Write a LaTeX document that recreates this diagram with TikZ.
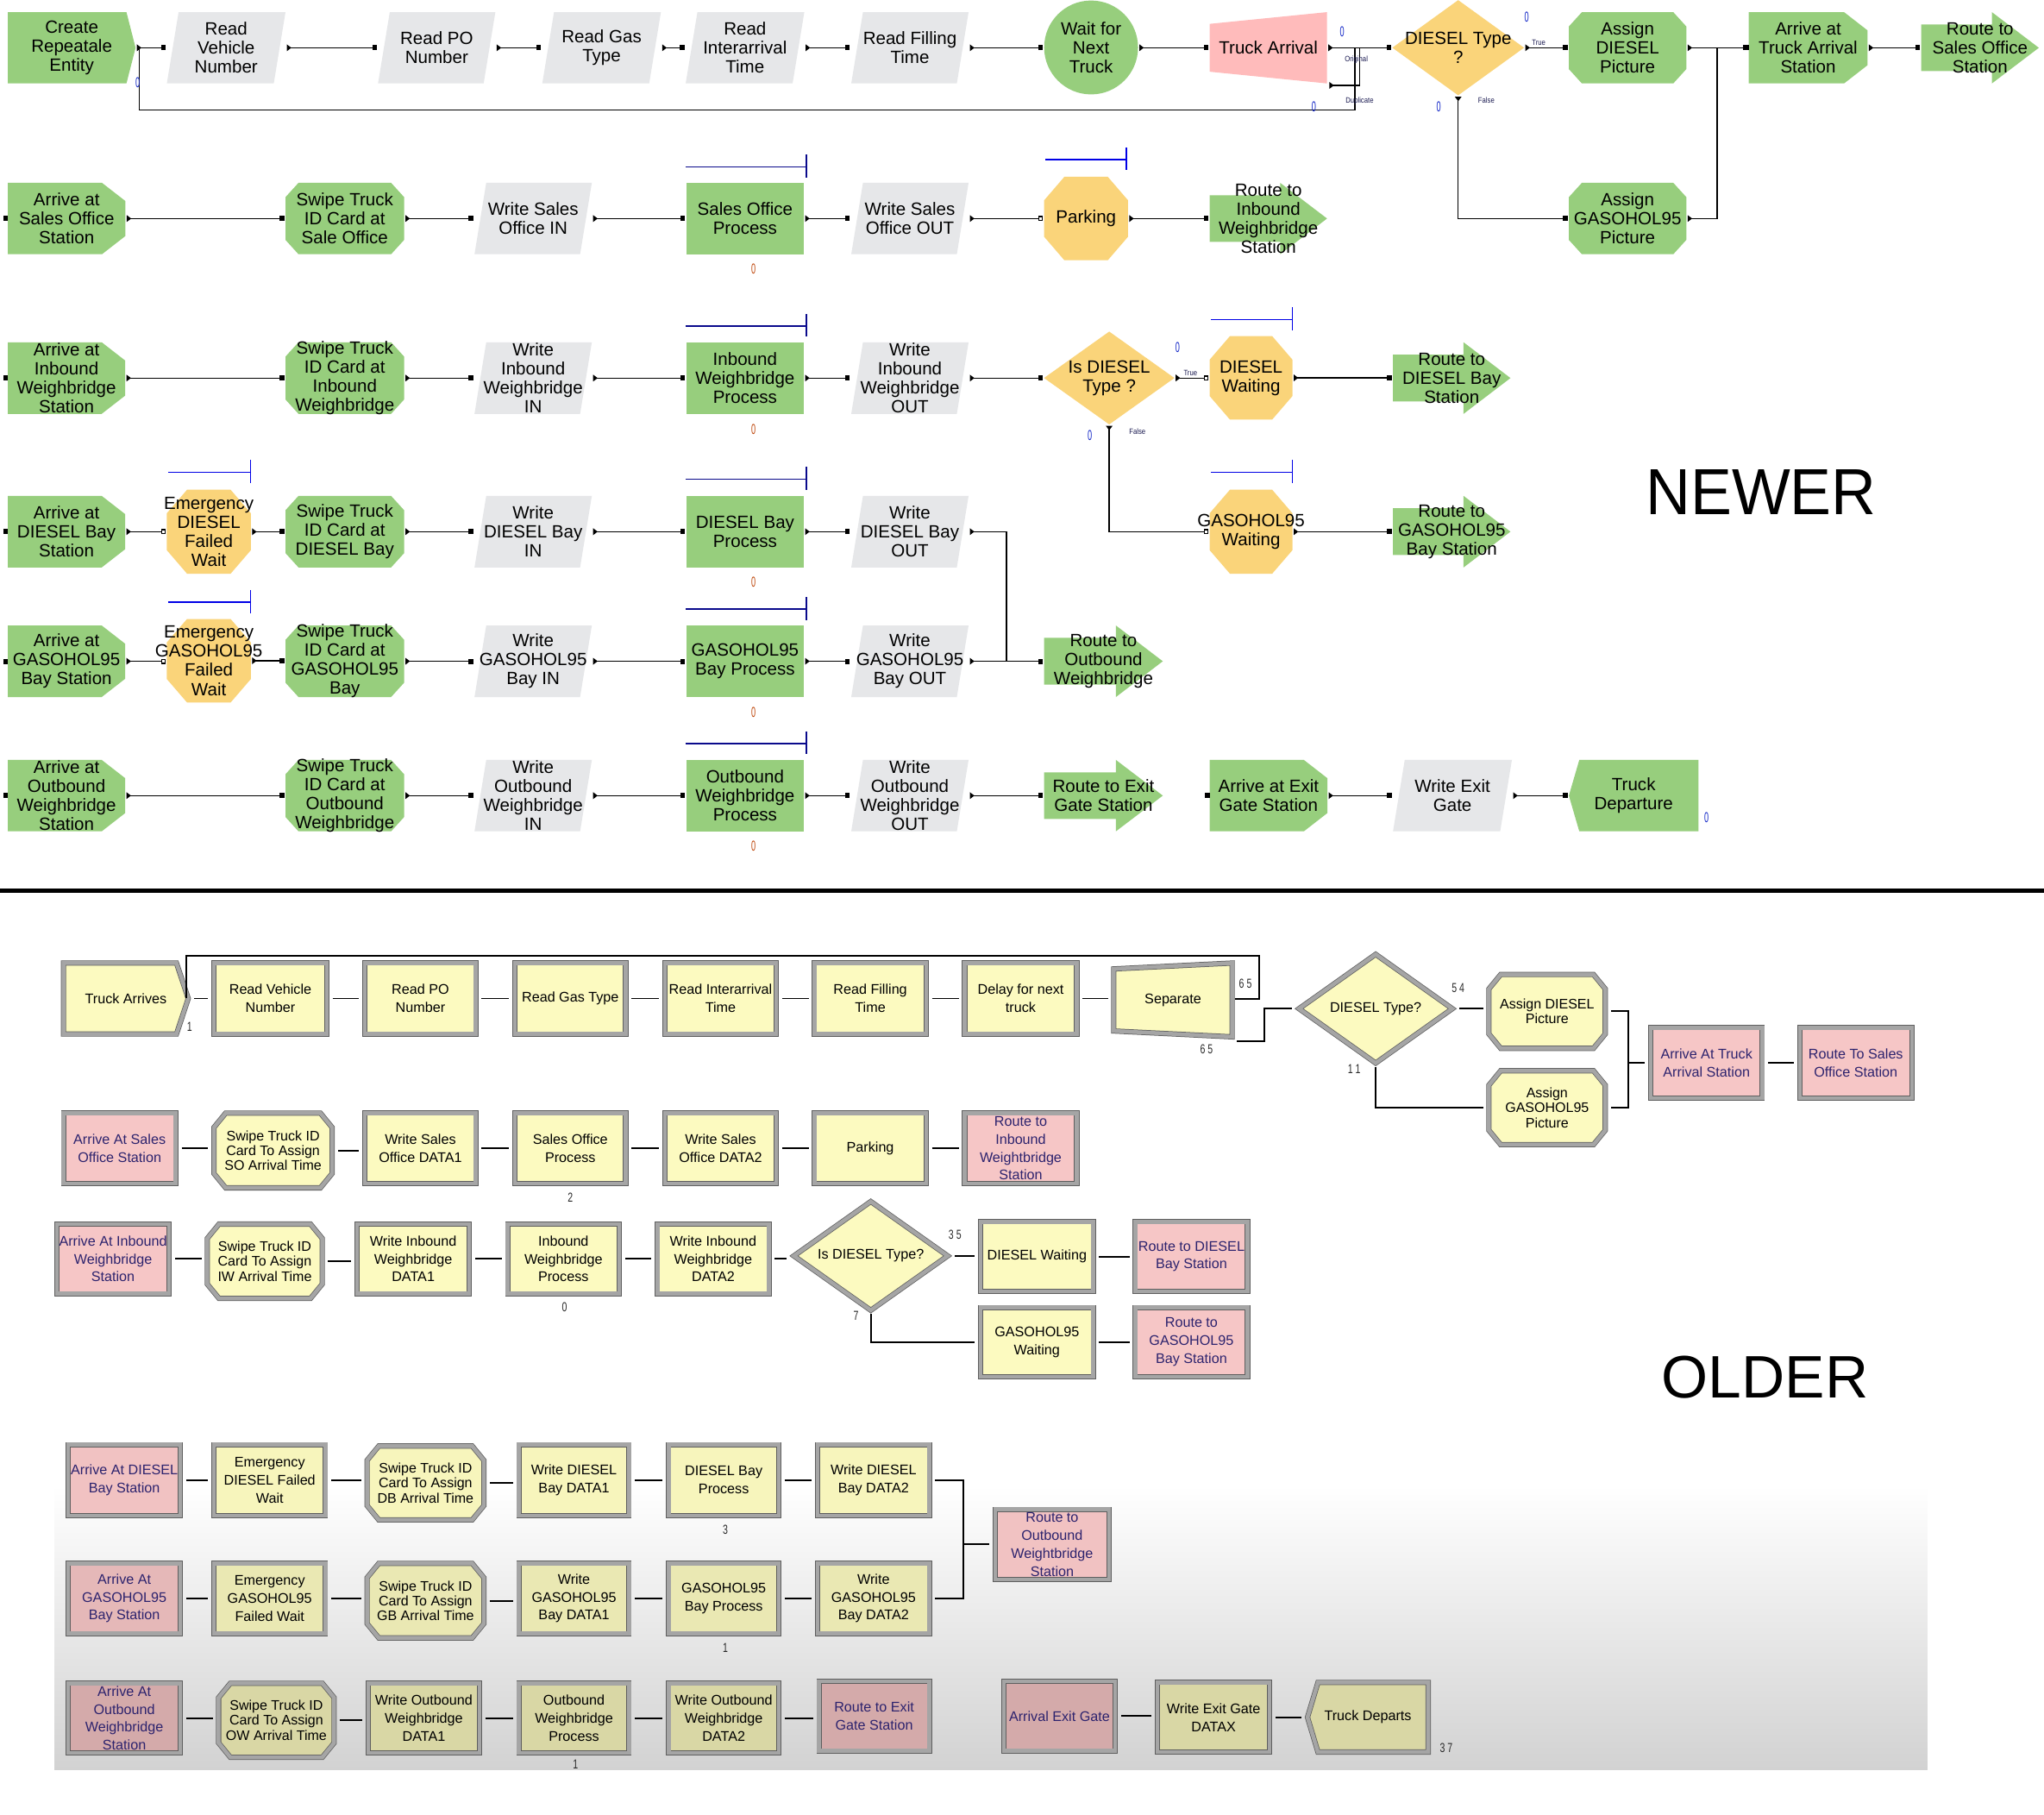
\documentclass[tikz,border=0pt]{standalone}
\usepackage{fontspec}
\setmainfont{Liberation Sans}
\usetikzlibrary{arrows.meta}
\definecolor{ngreen}{RGB}{151,206,125}
\definecolor{ngray}{RGB}{230,231,233}
\definecolor{npink}{RGB}{255,187,187}
\definecolor{norange}{RGB}{250,212,122}
\definecolor{oyel}{RGB}{252,250,192}
\definecolor{opink}{RGB}{246,198,198}
\colorlet{oyel4}{oyel!98!black}
\colorlet{opink4}{opink!98!black}
\colorlet{oyel5}{oyel!93!black}
\colorlet{opink5}{opink!93!black}
\colorlet{oyel6}{oyel!86!black}
\colorlet{opink6}{opink!86!black}
\definecolor{obev}{RGB}{165,165,165}
\definecolor{oedge}{RGB}{95,95,95}
\definecolor{otext}{RGB}{45,35,110}
\definecolor{qnavy}{RGB}{10,10,140}
\definecolor{qblue}{RGB}{0,0,230}
\definecolor{zblue}{RGB}{20,40,200}
\definecolor{zred}{RGB}{190,70,10}
\definecolor{bgbot}{RGB}{210,210,210}
\definecolor{lblc}{RGB}{25,25,80}
\definecolor{onumc}{RGB}{40,40,40}
\newcommand\fntN{\fontsize{13.6}{14.6}\selectfont}
\newcommand\fntO{\fontsize{10.7}{13.8}\selectfont}
\newcommand\fntOs{\fontsize{10.6}{11.4}\selectfont}
% ---------- newer modules ----------
\newcommand\NNode[6]{\node[ntxt] (#1) at ({(#2+#4)/2},{(#3+#5)/2}) {#6};
  \coordinate (#1-in) at ({#2-1},{(#3+#5)/2});
  \coordinate (#1-out) at ({#4+1},{(#3+#5)/2});}
\newcommand\NRect[6]{\fill[ngreen] (#2,#3) rectangle (#4,#5); \NNode{#1}{#2}{#3}{#4}{#5}{#6}}
\newcommand\NPar[6]{\fill[ngray] (#2,#5) -- ({#2+9},#3) -- (#4,#3) -- ({#4-9},#5) -- cycle; \NNode{#1}{#2}{#3}{#4}{#5}{#6}}
\newcommand\NCreate[6]{\fill[ngreen] (#2,#3) -- ({#4-7},#3) -- (#4,{(#3+#5)/2}) -- ({#4-7},#5) -- (#2,#5) -- cycle; \NNode{#1}{#2}{#3}{#4}{#5}{#6}}
\newcommand\NStation[6]{\fill[ngreen] (#2,#3) -- ({#4-18},#3) -- (#4,{#3+14}) -- (#4,{#5-14}) -- ({#4-18},#5) -- (#2,#5) -- cycle;
  \fill ({#2-3.5},{(#3+#5)/2-2}) rectangle (#2,{(#3+#5)/2+2}); \NNode{#1}{#2}{#3}{#4}{#5}{#6}}
\newcommand\NOct[6]{\fill[ngreen] ({#2+10},#3) -- ({#4-10},#3) -- (#4,{#3+11}) -- (#4,{#5-11}) -- ({#4-10},#5) -- ({#2+10},#5) -- (#2,{#5-11}) -- (#2,{#3+11}) -- cycle; \NNode{#1}{#2}{#3}{#4}{#5}{#6}}
\newcommand\NHold[6]{\fill[norange] ({#2+15.5},#3) -- ({#4-15.5},#3) -- (#4,{#3+18}) -- (#4,{#5-18}) -- ({#4-15.5},#5) -- ({#2+15.5},#5) -- (#2,{#5-18}) -- (#2,{#3+18}) -- cycle; \NNode{#1}{#2}{#3}{#4}{#5}{#6}}
\newcommand\NRoute[6]{\fill[ngreen] (#2,{#3+9.5}) -- ({#4-36},{#3+9.5}) -- ({#4-36},#3) -- (#4,{(#3+#5)/2}) -- ({#4-36},#5) -- ({#4-36},{#5-9.5}) -- (#2,{#5-9.5}) -- cycle; \NNode{#1}{#2}{#3}{#4}{#5}{#6}}
\newcommand\NDispose[6]{\fill[ngreen] ({#2+8},#3) -- (#4,#3) -- (#4,#5) -- ({#2+8},#5) -- (#2,{(#3+#5)/2}) -- cycle; \NNode{#1}{#2}{#3}{#4}{#5}{#6}}
\newcommand\NTrap[6]{\fill[npink] (#2,{#3+9}) -- (#4,#3) -- (#4,#5) -- (#2,{#5-9}) -- cycle; \NNode{#1}{#2}{#3}{#4}{#5}{#6}}
\newcommand\NDiamond[6]{\fill[norange] ({#2-#4},#3) -- (#2,{#3-#5}) -- ({#2+#4},#3) -- (#2,{#3+#5}) -- cycle;
  \node[ntxt] (#1) at (#2,#3) {#6};
  \coordinate (#1-in) at ({#2-#4-1},#3); \coordinate (#1-out) at ({#2+#4+1},#3); \coordinate (#1-bot) at (#2,{#3+#5+1});}
% ---------- older modules ----------
\newcommand\ONode[8]{\node[inner sep=0pt, align=center, font=#8, text=#6] (#1) at ({(#2+#4)/2},{(#3+#5)/2}) {#7};
  \coordinate (#1-in) at (#2,{(#3+#5)/2}); \coordinate (#1-out) at (#4,{(#3+#5)/2});}
\newcommand\ORect[8]{\path[obord,fill=#6] ({#2+2},{#3+2}) rectangle ({#4-2},{#5-2}); \ONode{#1}{#2}{#3}{#4}{#5}{#7}{#8}{\fntO}}
\newcommand\OOct[8]{\path[obord,fill=#6] ({#2+11},{#3+2}) -- ({#4-11},{#3+2}) -- ({#4-2},{#3+13}) -- ({#4-2},{#5-13}) -- ({#4-11},{#5-2}) -- ({#2+11},{#5-2}) -- ({#2+2},{#5-13}) -- ({#2+2},{#3+13}) -- cycle; \ONode{#1}{#2}{#3}{#4}{#5}{#7}{#8}{\fntOs}}
\newcommand\OCreate[8]{\path[obord,fill=#6] ({#2+2},{#3+2}) -- ({#4-11},{#3+2}) -- ({#4-2},{(#3+#5)/2}) -- ({#4-11},{#5-2}) -- ({#2+2},{#5-2}) -- cycle; \ONode{#1}{#2}{#3}{#4}{#5}{#7}{#8}{\fntO}}
\newcommand\OTrap[8]{\path[obord,fill=#6] ({#2+2},{#3+6.5}) -- ({#4-2},{#3+2}) -- ({#4-2},{#5-2}) -- ({#2+2},{#5-6.5}) -- cycle; \ONode{#1}{#2}{#3}{#4}{#5}{#7}{#8}{\fntO}}
\newcommand\ODispose[8]{\path[obord,fill=#6] ({#2+10},{#3+2}) -- ({#4-2},{#3+2}) -- ({#4-2},{#5-2}) -- ({#2+10},{#5-2}) -- ({#2+2},{(#3+#5)/2}) -- cycle; \ONode{#1}{#2}{#3}{#4}{#5}{#7}{#8}{\fntO}}
\newcommand\ODiamond[8]{\path[obord,fill=#6] ({#2-#4+3},#3) -- (#2,{#3-#5+3}) -- ({#2+#4-3},#3) -- (#2,{#3+#5-3}) -- cycle;
  \node[inner sep=0pt, align=center, font=\fntO, text=#7] (#1) at (#2,#3) {#8};
  \coordinate (#1-in) at ({#2-#4},#3); \coordinate (#1-out) at ({#2+#4},#3); \coordinate (#1-bot) at (#2,{#3+#5});}
% ---------- connectors and labels ----------
\newcommand\ConN[2]{\draw[nc] (#1-out) -- (#1-out -| #2-in);}
\newcommand\ConNh[2]{\draw[nch] (#1-out) -- (#1-out -| #2-in);}
\newcommand\ConO[2]{\draw[oc] (#1-out) -- (#1-out -| #2-in);}
\newcommand\Qbar[4]{\draw[draw=#4, line width=1pt] (#1,#3) -- (#2,#3); \draw[draw=#4, line width=0.8pt] (#2,{#3-9.3}) -- (#2,{#3+8.2});}
\newcommand\zlab[4]{\node[inner sep=0pt, text=#4, font=\fontsize{11}{11}\selectfont] (#1) at (#2,#3) {\scalebox{0.55}[1]{0}};}
\newcommand\olab[4]{\node[inner sep=0pt, text=onumc, font=\fontsize{10}{10}\selectfont] (#1) at (#2,#3) {\scalebox{0.7}[1]{#4}};}
\newcommand\tlab[4]{\node[inner sep=0pt, text=lblc, font=\fontsize{6}{6}\selectfont] (#1) at (#2,#3) {\scalebox{0.85}[1]{#4}};}
\begin{document}
\begin{tikzpicture}[x=1pt,y=-1pt,
  ntxt/.style={font=\fntN, align=center, inner sep=0pt},
  nline/.style={line width=0.9pt},
  nc/.style={nline, {Triangle[reversed,length=3.5pt,width=5pt]}-{Square[length=3.5pt,width=4pt]}},
  nch/.style={nline, {Triangle[reversed,length=3.5pt,width=5pt]}-{Square[open,length=3.5pt,width=4pt]}},
  nce/.style={nline, {Triangle[reversed,length=3.5pt,width=5pt]}-},
  oc/.style={line width=1.3pt, shorten <=2.5pt, shorten >=2.5pt},
  ol/.style={line width=1.3pt},
  obord/.style={draw=oedge, line width=0.5pt, double=obev, double distance=3pt, line join=miter}]
\useasboundingbox (0,0) rectangle (1568,1392);
\fill[white] (0,0) rectangle (1568,1392);
% older background (white fading to grey at the bottom)
\shade[top color=white, bottom color=bgbot] (41.7,1139) rectangle (1478.5,1357);
\draw[line width=3pt] (0,683) -- (1568,683);

% ================= NEWER =================
% Row 1
\NCreate{create}{6}{9.3}{104}{64}{Create\\Repeatale\\Entity}
\NPar{rveh}{128}{9.3}{219}{64}{Read\\Vehicle\\Number}
\NPar{rpo}{290}{9.3}{380}{64}{Read PO\\Number}
\NPar{rgas}{416}{9.3}{507}{64}{Read Gas\\Type}
\NPar{rint}{526}{9.3}{617}{64}{Read\\Interarrival\\Time}
\NPar{rfill}{653}{9.3}{743}{64}{Read Filling\\Time}
\fill[ngreen] (837,36.4) circle[radius=36pt];
\node[ntxt] (wait) at (837,36.6) {Wait for\\Next\\Truck};
\coordinate (wait-in) at (800,36.6); \coordinate (wait-out) at (874,36.6);
\NTrap{tarr}{928}{9.3}{1018}{64}{Truck Arrival}
\coordinate (tarr-dup) at (1019.8,65.5);
\NDiamond{dtype}{1118.6}{36.6}{50.5}{36.5}{DIESEL Type\\?}
\NOct{asgD}{1203.5}{9.3}{1293.6}{64}{Assign\\DIESEL\\Picture}
\NStation{arrTA}{1341.5}{9.3}{1432.6}{64}{Arrive at\\Truck Arrival\\Station}
\NRoute{rSO}{1473.8}{9.3}{1564}{64}{Route to\\Sales Office\\Station}
% Row 2
\NStation{arrSO}{6}{140.2}{96.2}{195}{Arrive at\\Sales Office\\Station}
\NOct{swSO}{219}{140.2}{310}{195}{Swipe Truck\\ID Card at\\Sale Office}
\NPar{wSOin}{364}{140.2}{454}{195}{Write Sales\\Office IN}
\NRect{soProc}{526.5}{140.2}{616.6}{195}{Sales Office\\Process}
\NPar{wSOout}{653}{140.2}{743}{195}{Write Sales\\Office OUT}
\NHold{park}{801}{135.6}{865.3}{199.6}{Parking}
\NRoute{rIW}{928}{140.2}{1018}{195}{Route to\\Inbound\\Weighbridge\\Station}
\NOct{asgG}{1203.5}{140.2}{1293.6}{195}{Assign\\GASOHOL95\\Picture}
% Row 3
\NStation{arrIW}{6}{262.5}{96}{317.4}{Arrive at\\Inbound\\Weighbridge\\Station}
\NOct{swIW}{219}{262.5}{310}{317.4}{Swipe Truck\\ID Card at\\Inbound\\Weighbridge}
\NPar{wIWin}{364}{262.5}{454}{317.4}{Write\\Inbound\\Weighbridge\\IN}
\NRect{iwProc}{526.5}{262.5}{616.6}{317.4}{Inbound\\Weighbridge\\Process}
\NPar{wIWout}{653}{262.5}{743}{317.4}{Write\\Inbound\\Weighbridge\\OUT}
\NDiamond{isD}{850.9}{289.9}{50}{35.6}{Is DIESEL\\Type ?}
\NHold{dWait}{928}{257.8}{991.4}{321.8}{DIESEL\\Waiting}
\NRoute{rDB}{1068.6}{262.5}{1158.7}{317.4}{Route to\\DIESEL Bay\\Station}
% Row 4
\NStation{arrDB}{6}{380.3}{96}{435.2}{Arrive at\\DIESEL Bay\\Station}
\NHold{emD}{128}{375.6}{192.4}{440}{Emergency\\DIESEL\\Failed\\Wait}
\NOct{swDB}{219}{380.3}{310}{435.2}{Swipe Truck\\ID Card at\\DIESEL Bay}
\NPar{wDBin}{364}{380.3}{454}{435.2}{Write\\DIESEL Bay\\IN}
\NRect{dbProc}{526.5}{380.3}{616.6}{435.2}{DIESEL Bay\\Process}
\NPar{wDBout}{653}{380.3}{743}{435.2}{Write\\DIESEL Bay\\OUT}
\NHold{gWait}{928}{375.6}{991.4}{440}{GASOHOL95\\Waiting}
\NRoute{rGB}{1068.6}{380.3}{1158.7}{435.2}{Route to\\GASOHOL95\\Bay Station}
% Row 5
\NStation{arrGB}{6}{479.7}{96}{534.6}{Arrive at\\GASOHOL95\\Bay Station}
\NHold{emG}{128}{474.7}{192.4}{538.8}{Emergency\\GASOHOL95\\Failed\\Wait}
\NOct{swGB}{219}{479.7}{310}{534.6}{Swipe Truck\\ID Card at\\GASOHOL95\\Bay}
\NPar{wGBin}{364}{479.7}{454}{534.6}{Write\\GASOHOL95\\Bay IN}
\NRect{gbProc}{526.5}{479.7}{616.6}{534.6}{GASOHOL95\\Bay Process}
\NPar{wGBout}{653}{479.7}{743}{534.6}{Write\\GASOHOL95\\Bay OUT}
\NRoute{rOW}{801}{479.7}{892}{534.6}{Route to\\Outbound\\Weighbridge}
% Row 6
\NStation{arrOW}{6}{582.8}{96}{637.6}{Arrive at\\Outbound\\Weighbridge\\Station}
\NOct{swOW}{219}{582.8}{310}{637.6}{Swipe Truck\\ID Card at\\Outbound\\Weighbridge}
\NPar{wOWin}{364}{582.8}{454}{637.6}{Write\\Outbound\\Weighbridge\\IN}
\NRect{owProc}{526.5}{582.8}{616.6}{637.6}{Outbound\\Weighbridge\\Process}
\NPar{wOWout}{653}{582.8}{743}{637.6}{Write\\Outbound\\Weighbridge\\OUT}
\NRoute{rEG}{801}{582.8}{892}{637.6}{Route to Exit\\Gate Station}
\NStation{arrEG}{928}{582.8}{1018.2}{637.6}{Arrive at Exit\\Gate Station}
\NPar{wEG}{1068.6}{582.8}{1159.8}{637.6}{Write Exit\\Gate}
\NDispose{tDep}{1203.5}{582.8}{1302.9}{637.6}{Truck\\Departure}

% queue bars
\Qbar{526}{618.6}{127.9}{qnavy}
\Qbar{802}{864}{122.4}{qblue}
\Qbar{526}{618.6}{250}{qnavy}
\Qbar{929}{991.4}{245}{qblue}
\Qbar{129}{192.4}{362.2}{qblue}
\Qbar{526}{618.6}{367.5}{qnavy}
\Qbar{929}{991.4}{362.2}{qblue}
\Qbar{129}{192.4}{461.9}{qblue}
\Qbar{526}{618.6}{467.2}{qnavy}
\Qbar{526}{618.6}{570.2}{qnavy}

% newer connectors
\ConN{create}{rveh} \ConN{rveh}{rpo} \ConN{rpo}{rgas} \ConN{rgas}{rint} \ConN{rint}{rfill}
\ConN{rfill}{wait} \ConN{wait}{tarr} \ConN{tarr}{dtype} \ConN{dtype}{asgD} \ConN{asgD}{arrTA} \ConN{arrTA}{rSO}
\coordinate (jA) at (1317.3,36.6);
\coordinate (jDup) at (1042.9,36.6);
\coordinate (jLoopR) at (1039.3,36.6);
\coordinate (jLoopL) at (107,36.6);
\draw[nc] (dtype-bot) |- (asgG-in);
\draw[nce] (asgG-out) -| (jA);
\draw[nce] (tarr-dup) -| (jDup);
\draw[nline] (jLoopR) -- ++(0,47.6) -| (jLoopL);
\ConN{arrSO}{swSO} \ConN{swSO}{wSOin} \ConN{wSOin}{soProc} \ConN{soProc}{wSOout} \ConNh{wSOout}{park} \ConN{park}{rIW}
\ConN{arrIW}{swIW} \ConN{swIW}{wIWin} \ConN{wIWin}{iwProc} \ConN{iwProc}{wIWout} \ConN{wIWout}{isD}
\ConNh{isD}{dWait} \ConN{dWait}{rDB}
\draw[nch] (isD-bot) |- (gWait-in);
\ConNh{arrDB}{emD} \ConN{emD}{swDB} \ConN{swDB}{wDBin} \ConN{wDBin}{dbProc} \ConN{dbProc}{wDBout}
\coordinate (jB) at (772.1,506.7);
\draw[nce] (wDBout-out) -| (jB);
\ConN{gWait}{rGB}
\ConNh{arrGB}{emG} \ConN{emG}{swGB} \ConN{swGB}{wGBin} \ConN{wGBin}{gbProc} \ConN{gbProc}{wGBout} \ConN{wGBout}{rOW}
\ConN{arrOW}{swOW} \ConN{swOW}{wOWin} \ConN{wOWin}{owProc} \ConN{owProc}{wOWout} \ConN{wOWout}{rEG}
\ConN{arrEG}{wEG} \ConN{wEG}{tDep}

% newer small labels
\tlab{lOrig}{1040.5}{45.6}{Original}
\tlab{lDup}{1043}{77.2}{Duplicate}
\tlab{lTrue1}{1180.4}{32.4}{True}
\tlab{lFalse1}{1140.2}{77.2}{False}
\tlab{lTrue2}{913.2}{286.2}{True}
\tlab{lFalse2}{872.5}{330.7}{False}
\zlab{zb1}{105.6}{63.5}{zblue}
\zlab{zb2}{1029.5}{24.3}{zblue}
\zlab{zb3}{1007.9}{81.6}{zblue}
\zlab{zb4}{1171.1}{13.2}{zblue}
\zlab{zb5}{1103.7}{81.6}{zblue}
\zlab{zb6}{903.4}{266.7}{zblue}
\zlab{zb7}{836}{334.1}{zblue}
\zlab{zb8}{1309}{627.3}{zblue}
\zlab{zr1}{578}{206.6}{zred}
\zlab{zr2}{578}{329.3}{zred}
\zlab{zr3}{578}{446.3}{zred}
\zlab{zr4}{578}{546.1}{zred}
\zlab{zr5}{578}{649.1}{zred}
\node[inner sep=0pt, anchor=base] (newer) at (1351,394.8) {\scalebox{0.95}[1]{\fontsize{50}{50}\selectfont NEWER}};

% ================= OLDER =================
% O1
\OCreate{oTA}{46.7}{736.6}{146.4}{795}{oyel}{black}{Truck Arrives}
\ORect{oRV}{162.1}{736.6}{252.7}{795}{oyel}{black}{Read Vehicle\\Number}
\ORect{oRPO}{278}{736.6}{367}{795}{oyel}{black}{Read PO\\Number}
\ORect{oRG}{393}{736.6}{482}{795}{oyel}{black}{Read Gas Type}
\ORect{oRI}{508}{736.6}{597.5}{795}{oyel}{black}{Read Interarrival\\Time}
\ORect{oRF}{622.8}{736.6}{712.4}{795}{oyel}{black}{Read Filling\\Time}
\ORect{oDel}{738}{736.6}{828}{795}{oyel}{black}{Delay for next\\truck}
\OTrap{oSep}{852.4}{736.6}{947.2}{797.2}{oyel}{black}{Separate}
\ODiamond{oDT}{1055.3}{773.6}{61.8}{44.7}{oyel}{black}{DIESEL Type?}
\OOct{oAD}{1140.2}{745.4}{1233.4}{806}{oyel}{black}{Assign DIESEL\\Picture}
\OOct{oAG}{1140.2}{819.2}{1233.4}{879.9}{oyel}{black}{Assign\\GASOHOL95\\Picture}
\ORect{oATA}{1264.3}{786.2}{1353.9}{844.2}{opink}{otext}{Arrive At Truck\\Arrival Station}
\ORect{oRSO}{1378.6}{786.2}{1468.6}{844.2}{opink}{otext}{Route To Sales\\Office Station}
% O2
\ORect{oASO}{46.7}{851.7}{136.8}{909.6}{opink}{otext}{Arrive At Sales\\Office Station}
\OOct{oSwSO}{162.1}{851.7}{256.8}{913}{oyel}{black}{Swipe Truck ID\\Card To Assign\\SO Arrival Time}
\ORect{oWSO1}{278}{851.7}{367}{909.6}{oyel}{black}{Write Sales\\Office DATA1}
\ORect{oSOP}{393}{851.7}{482}{909.6}{oyel}{black}{Sales Office\\Process}
\ORect{oWSO2}{508}{851.7}{597.5}{909.6}{oyel}{black}{Write Sales\\Office DATA2}
\ORect{oPark}{622.8}{851.7}{712.4}{909.6}{oyel}{black}{Parking}
\ORect{oRIW}{738}{851.7}{828}{909.6}{opink}{otext}{Route to\\Inbound\\Weightbridge\\Station}
% O3
\ORect{oAIW}{41.6}{936.8}{131.8}{994.1}{opink}{otext}{Arrive At Inbound\\Weighbridge\\Station}
\OOct{oSwIW}{157}{936.8}{249.2}{997.8}{oyel}{black}{Swipe Truck ID\\Card To Assign\\IW Arrival Time}
\ORect{oWIW1}{272}{936.8}{362}{994.1}{oyel}{black}{Write Inbound\\Weighbridge\\DATA1}
\ORect{oIWP}{387.4}{936.8}{477}{994.1}{oyel}{black}{Inbound\\Weighbridge\\Process}
\ORect{oWIW2}{502.3}{936.8}{591.9}{994.1}{oyel}{black}{Write Inbound\\Weighbridge\\DATA2}
\ODiamond{oIsD}{668}{963.2}{62}{44.7}{oyel}{black}{Is DIESEL Type?}
\ORect{oDW}{750.3}{935}{840.6}{992.3}{oyel}{black}{DIESEL Waiting}
\ORect{oRDB}{868.9}{935}{959}{992.3}{opink}{otext}{Route to DIESEL\\Bay Station}
\ORect{oGW}{750.3}{1000.7}{840.6}{1058}{oyel}{black}{GASOHOL95\\Waiting}
\ORect{oRGB}{868.9}{1000.7}{959}{1058}{opink}{otext}{Route to\\GASOHOL95\\Bay Station}
% O4
\ORect{oADB}{50.3}{1106}{140.4}{1164.4}{opink4}{otext}{Arrive At DIESEL\\Bay Station}
\ORect{oEmD}{162.1}{1106}{251.7}{1164.4}{oyel4}{black}{Emergency\\DIESEL Failed\\Wait}
\OOct{oSwDB}{279.6}{1107}{373.2}{1167.7}{oyel4}{black}{Swipe Truck ID\\Card To Assign\\DB Arrival Time}
\ORect{oWDB1}{396}{1106}{484.6}{1164.4}{oyel4}{black}{Write DIESEL\\Bay DATA1}
\ORect{oDBP}{510.9}{1106}{599.5}{1164.4}{oyel4}{black}{DIESEL Bay\\Process}
\ORect{oWDB2}{625.3}{1106}{714.9}{1164.4}{oyel4}{black}{Write DIESEL\\Bay DATA2}
\ORect{oROW}{761.5}{1155.6}{852.7}{1213.4}{opink4}{otext}{Route to\\Outbound\\Weightbridge\\Station}
% O5
\ORect{oAGB}{50.3}{1197}{140.4}{1254.8}{opink5}{otext}{Arrive At\\GASOHOL95\\Bay Station}
\ORect{oEmG}{162.1}{1197}{251.7}{1254.8}{oyel5}{black}{Emergency\\GASOHOL95\\Failed Wait}
\OOct{oSwGB}{279.6}{1197}{373.2}{1258.2}{oyel5}{black}{Swipe Truck ID\\Card To Assign\\GB Arrival Time}
\ORect{oWGB1}{396}{1197}{484.6}{1254.8}{oyel5}{black}{Write\\GASOHOL95\\Bay DATA1}
\ORect{oGBP}{510.9}{1197}{599.5}{1254.8}{oyel5}{black}{GASOHOL95\\Bay Process}
\ORect{oWGB2}{625.3}{1197}{714.9}{1254.8}{oyel5}{black}{Write\\GASOHOL95\\Bay DATA2}
% O6
\ORect{oAOW}{50.3}{1289}{140.4}{1346.4}{opink6}{otext}{Arrive At\\Outbound\\Weighbridge\\Station}
\OOct{oSwOW}{165.7}{1289}{258.3}{1349.7}{oyel6}{black}{Swipe Truck ID\\Card To Assign\\OW Arrival Time}
\ORect{oWOW1}{280.6}{1289}{369.7}{1346.4}{oyel6}{black}{Write Outbound\\Weighbridge\\DATA1}
\ORect{oOWP}{396}{1289}{484.6}{1346.4}{oyel6}{black}{Outbound\\Weighbridge\\Process}
\ORect{oWOW2}{510.9}{1289}{599.5}{1346.4}{oyel6}{black}{Write Outbound\\Weighbridge\\DATA2}
\ORect{oREG}{626.3}{1287.5}{714.9}{1344.8}{opink6}{otext}{Route to Exit\\Gate Station}
\ORect{oAEG}{768}{1287.5}{857.5}{1344.8}{opink6}{otext}{Arrival Exit Gate}
\ORect{oWEG}{885.9}{1288.4}{976}{1345.7}{oyel6}{black}{Write Exit Gate\\DATAX}
\ODispose{oTD}{1001}{1288.4}{1097.6}{1345.7}{oyel6}{black}{Truck Departs}

% older connectors
\ConO{oTA}{oRV} \ConO{oRV}{oRPO} \ConO{oRPO}{oRG} \ConO{oRG}{oRI} \ConO{oRI}{oRF} \ConO{oRF}{oDel} \ConO{oDel}{oSep}
\coordinate (oSep-o1) at (947.2,766.3);
\coordinate (oSep-o2) at (949,798.3);
\coordinate (oLoopEnd) at (143,765.7);
\draw[ol] (oSep-o1) -- (965.7,766.3) -- (965.7,733.2) -| (oLoopEnd);
\draw[ol, shorten >=2.5pt] (oSep-o2) -- (969.8,798.3) |- (oDT-in);
\ConO{oDT}{oAD}
\draw[ol, shorten >=2.5pt] (oDT-bot) |- (oAG-in);
\coordinate (oBr) at (1248.8,814.8);
\draw[ol, shorten <=2.5pt] (oAD-out) -| (oBr);
\draw[ol, shorten <=2.5pt] (oAG-out) -| (oBr);
\draw[oc, shorten <=0pt] (oBr) -- (oBr -| oATA-in);
\ConO{oATA}{oRSO}
\ConO{oASO}{oSwSO} \ConO{oSwSO}{oWSO1} \ConO{oWSO1}{oSOP} \ConO{oSOP}{oWSO2} \ConO{oWSO2}{oPark} \ConO{oPark}{oRIW}
\ConO{oAIW}{oSwIW} \ConO{oSwIW}{oWIW1} \ConO{oWIW1}{oIWP} \ConO{oIWP}{oWIW2} \ConO{oWIW2}{oIsD}
\ConO{oIsD}{oDW} \ConO{oDW}{oRDB} \ConO{oGW}{oRGB}
\draw[ol, shorten >=2.5pt] (oIsD-bot) |- (oGW-in);
\ConO{oADB}{oEmD} \ConO{oEmD}{oSwDB} \ConO{oSwDB}{oWDB1} \ConO{oWDB1}{oDBP} \ConO{oDBP}{oWDB2}
\ConO{oAGB}{oEmG} \ConO{oEmG}{oSwGB} \ConO{oSwGB}{oWGB1} \ConO{oWGB1}{oGBP} \ConO{oGBP}{oWGB2}
\coordinate (oBr2) at (739.2,1184.5);
\draw[ol, shorten <=2.5pt] (oWDB2-out) -| (oBr2);
\draw[ol, shorten <=2.5pt] (oWGB2-out) -| (oBr2);
\draw[oc, shorten <=0pt] (oBr2) -- (oBr2 -| oROW-in);
\ConO{oAOW}{oSwOW} \ConO{oSwOW}{oWOW1} \ConO{oWOW1}{oOWP} \ConO{oOWP}{oWOW2} \ConO{oWOW2}{oREG}
\ConO{oAEG}{oWEG} \ConO{oWEG}{oTD}

% older number labels
\olab{on1}{145.4}{787.3}{1}
\olab{on2}{955.4}{754.2}{6 5}
\olab{on3}{925.5}{804.9}{6 5}
\olab{on4}{1118.6}{757.5}{5 4}
\olab{on5}{1038.8}{819.9}{1 1}
\olab{on6}{437.5}{918.5}{2}
\olab{on7}{433}{1002.3}{0}
\olab{on8}{732.6}{947.1}{3 5}
\olab{on9}{656.7}{1008.9}{7}
\olab{on10}{556.5}{1173.3}{3}
\olab{on11}{556.5}{1263.7}{1}
\olab{on12}{441.5}{1353}{1}
\olab{on13}{1109.4}{1340.8}{3 7}
\node[inner sep=0pt, anchor=base] (older) at (1354,1071.8) {\fontsize{46}{46}\selectfont OLDER};
\end{tikzpicture}
\end{document}
